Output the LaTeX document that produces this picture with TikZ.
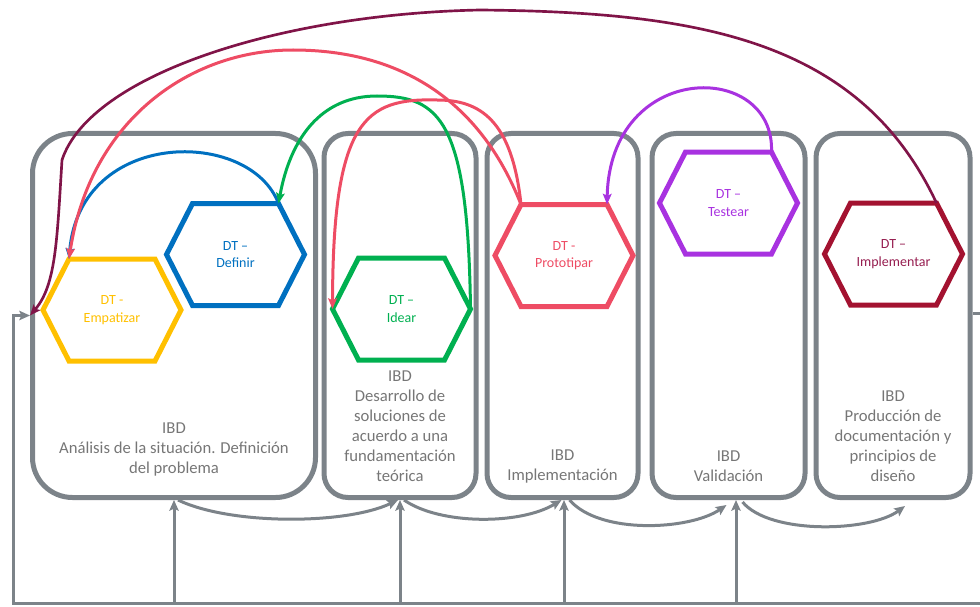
\documentclass[tikz,border=0pt]{standalone}
\usepackage{fontspec}
\setmainfont{Carlito}
\usetikzlibrary{arrows.meta,calc}
\definecolor{boxgray}{RGB}{124,131,137}
\definecolor{txtgray}{RGB}{118,118,118}
\definecolor{cyel}{RGB}{255,192,0}
\definecolor{cblu}{RGB}{0,112,192}
\definecolor{cgrn}{RGB}{0,176,80}
\definecolor{cred}{RGB}{238,76,100}
\definecolor{cpur}{RGB}{168,50,224}
\definecolor{cimp}{RGB}{163,18,48}
\definecolor{cimptxt}{RGB}{150,30,80}
\definecolor{cmar}{RGB}{128,20,72}
\newcommand\drawhex[2]{%
  \path (#1.center) ++(-69,0) coordinate (#1-l)
        (#1.center) ++(-43,-51) coordinate (#1-tl)
        (#1.center) ++(43,-51) coordinate (#1-tr)
        (#1.center) ++(69,0) coordinate (#1-r)
        (#1.center) ++(43,51) coordinate (#1-br)
        (#1.center) ++(-43,51) coordinate (#1-bl);
  \draw[hexline,draw=#2] (#1-l) -- (#1-tl) -- (#1-tr) -- (#1-r) -- (#1-br) -- (#1-bl) -- cycle;}
\begin{document}
\begin{tikzpicture}[x=0.75pt,y=-0.75pt,
  ibdbox/.style={draw=boxgray, line width=3.75pt, rounded corners=18pt, minimum height=273pt, inner sep=0pt},
  boxtext/.style={text=txtgray, align=center, inner sep=0pt, font=\fontsize{12.5}{15}\selectfont},
  hextext/.style={align=center, inner sep=0pt, font=\fontsize{10.5}{13}\selectfont},
  hexline/.style={line width=3.75pt, line join=miter},
  carrow/.style={line width=2.25pt, -{Stealth[length=8pt,width=6.5pt,inset=1.5pt]}},
  gline/.style={draw=boxgray, line width=2.25pt},
  garrow/.style={gline, -{Stealth[length=8pt,width=7pt,inset=1.5pt]}}]
\useasboundingbox (0,0) rectangle (980,606);
% boxes
\node[ibdbox, rounded corners=30pt, minimum width=212.25pt] (b1) at (174,315.5) {};
\node[ibdbox, minimum width=114pt] (b2) at (400,315.5) {};
\node[ibdbox, minimum width=113.25pt] (b3) at (562.5,315.5) {};
\node[ibdbox, minimum width=114.75pt] (b4) at (728.5,315.5) {};
\node[ibdbox, minimum width=115.5pt] (b5) at (893,315.5) {};
% box texts
\node[boxtext] (t1) at (174,449) {IBD\\Análisis de la situación. Definición\\del problema};
\node[boxtext] (t2) at (400,426) {IBD\\Desarrollo de\\soluciones de\\acuerdo a una\\fundamentación\\teórica};
\node[boxtext] (t3) at (562.5,466) {IBD\\Implementación};
\node[boxtext] (t4) at (728.5,466) {IBD\\Validación};
\node[boxtext] (t5) at (893,436) {IBD\\Producción de\\documentación y\\principios de\\diseño};
% hexagons
\node[hextext, text=cyel] (emp) at (112,310) {DT -\\Empatizar};
\node[hextext, text=cblu] (def) at (235.5,254.5) {DT –\\Definir};
\node[hextext, text=cgrn] (ide) at (401.5,309) {DT –\\Idear};
\node[hextext, text=cred] (pro) at (564,255.5) {DT -\\Prototipar};
\node[hextext, text=cpur] (tes) at (728.5,203) {DT –\\Testear};
\node[hextext, text=cimptxt] (imp) at (893.5,254) {DT –\\Implementar};
\drawhex{emp}{cyel}
\drawhex{def}{cblu}
\drawhex{ide}{cgrn}
\drawhex{pro}{cred}
\drawhex{tes}{cpur}
\drawhex{imp}{cimp}
% coloured connectors
\draw[carrow, cblu] (def-tr) .. controls (250,128) and (80,128) .. (emp-tl);
\draw[carrow, cgrn] (ide-r) .. controls (468,120) and (440,96) .. (377,96) .. controls (320,96) and (290,140) .. (def-tr);
\draw[carrow, cred] (pro-tl) .. controls (512,120) and (480,100) .. (437,100) .. controls (365,98) and (333,120) .. (ide-l);
\draw[carrow, cred] (pro-tl) .. controls (480,100) and (400,50) .. (293,50) .. controls (190,50) and (90,120) .. (emp-tl);
\draw[carrow, cpur] (tes-tr) .. controls (775,60) and (610,60) .. (pro-tr);
\draw[carrow, cmar, line width=2pt] (imp-tr) .. controls (860,40) and (700,12) .. (480,10) .. controls (280,14) and (90,75) .. (62,160) .. controls (57,240) and (56,285) .. (b1.west);
% gray feedback lines
\coordinate (loopL) at (13,603);
\coordinate (loopR) at (980,603);
\coordinate (u4) at (736,603);
\coordinate (rstub) at (980,313);
\draw[garrow] (loopR) -- (loopL) |- (b1.west);
\draw[garrow] (b1.south |- loopL) -- (b1.south);
\draw[garrow] (b2.south |- loopL) -- (b2.south);
\draw[garrow] ($(b3.south |- loopL)+(1.5,0)$) -- ($(b3.south)+(1.5,0)$);
\draw[garrow] (u4) -- (u4 |- b4.south);
\draw[gline] (rstub -| b5.east) -- (rstub);
% gray curved arrows
\draw[garrow] ($(b1.south)+(4,0)$) .. controls (230,525) and (345,525) .. ($(b2.south)+(-2,0)$);
\draw[garrow] ($(b2.south)+(4,0)$) .. controls (440,525) and (520,525) .. ($(b3.south)+(-1,0)$);
\draw[garrow] ($(b3.south)+(7,0)$) .. controls (600,535) and (690,530) .. ($(b4.south)+(-2,5)$);
\draw[garrow] ($(b4.south)+(14,2)$) .. controls (770,535) and (870,532) .. ($(b5.south)+(12,6)$);
\end{tikzpicture}
\end{document}
